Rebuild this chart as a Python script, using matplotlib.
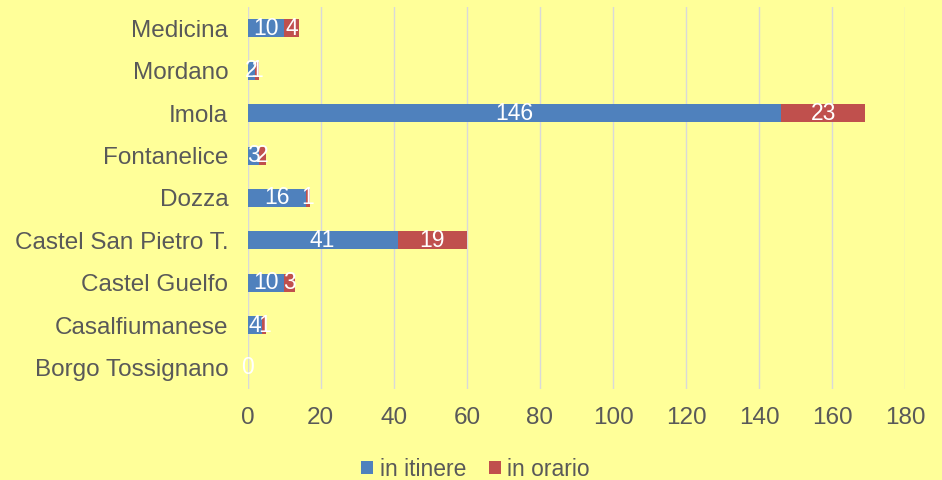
import numpy as np
import matplotlib.pyplot as plt

plt.rcParams['font.family'] = ['Liberation Sans', 'DejaVu Sans']
plt.rcParams['font.size'] = 17.5

# ==== Data ==== #
comuni = ["Borgo Tossignano", "Casalfiumanese", "Castel Guelfo", "Castel San Pietro T.",
          "Dozza", "Fontanelice", "Imola", "Mordano", "Medicina"]
in_itinere = [0, 4, 10, 41, 16, 3, 146, 2, 10]
in_orario = [0, 1, 3, 19, 1, 2, 23, 1, 4]
xticks = [0, 20, 40, 60, 80, 100, 120, 140, 160, 180]

bg = '#FFFF99'
txt = '#595959'
blue = '#4F81BD'
red = '#C0504D'

fig = plt.figure(figsize=(9.42, 4.80), dpi=100, facecolor=bg)
ax = fig.add_axes([0.263, 0.190, 0.698, 0.795], facecolor=bg)

y = np.arange(len(comuni))
h = 0.42
b1 = ax.barh(y, in_itinere, height=h, color=blue, label='in itinere', zorder=3)
b2 = ax.barh(y, in_orario, left=in_itinere, height=h, color=red, label='in orario', zorder=3)

# ==== Value labels ==== #
for i in range(len(comuni)):
    a, b = in_itinere[i], in_orario[i]
    ax.text(a / 2, y[i], str(a), color='white', ha='center', va='center',
            fontsize=16.5, zorder=4)
    if b > 0:
        ax.text(a + b / 2, y[i], str(b), color='white', ha='center', va='center',
                fontsize=16.5, zorder=4)

ax.set_xlim(0, 180)
ax.set_ylim(-0.5, len(comuni) - 0.5)
ax.set_xticks(xticks)
ax.set_yticks(y)
ax.set_yticklabels(comuni)
ax.grid(axis='x', color='#D9D9D9', linewidth=1, zorder=0)
for s in ax.spines.values():
    s.set_visible(False)
ax.axvline(0, color='#D9D9D9', linewidth=1.5, zorder=2)
ax.tick_params(length=0, colors=txt)
ax.tick_params(axis='x', pad=13)
ax.tick_params(axis='y', pad=14)

fig.legend(handles=[b1, b2], loc='lower center', bbox_to_anchor=(0.505, -0.045), ncol=2,
           frameon=False, handlelength=0.5, handleheight=0.5, handletextpad=0.3,
           columnspacing=1.0, labelcolor=txt, fontsize=16.5)

plt.savefig('out.png', dpi=100, facecolor=bg)
